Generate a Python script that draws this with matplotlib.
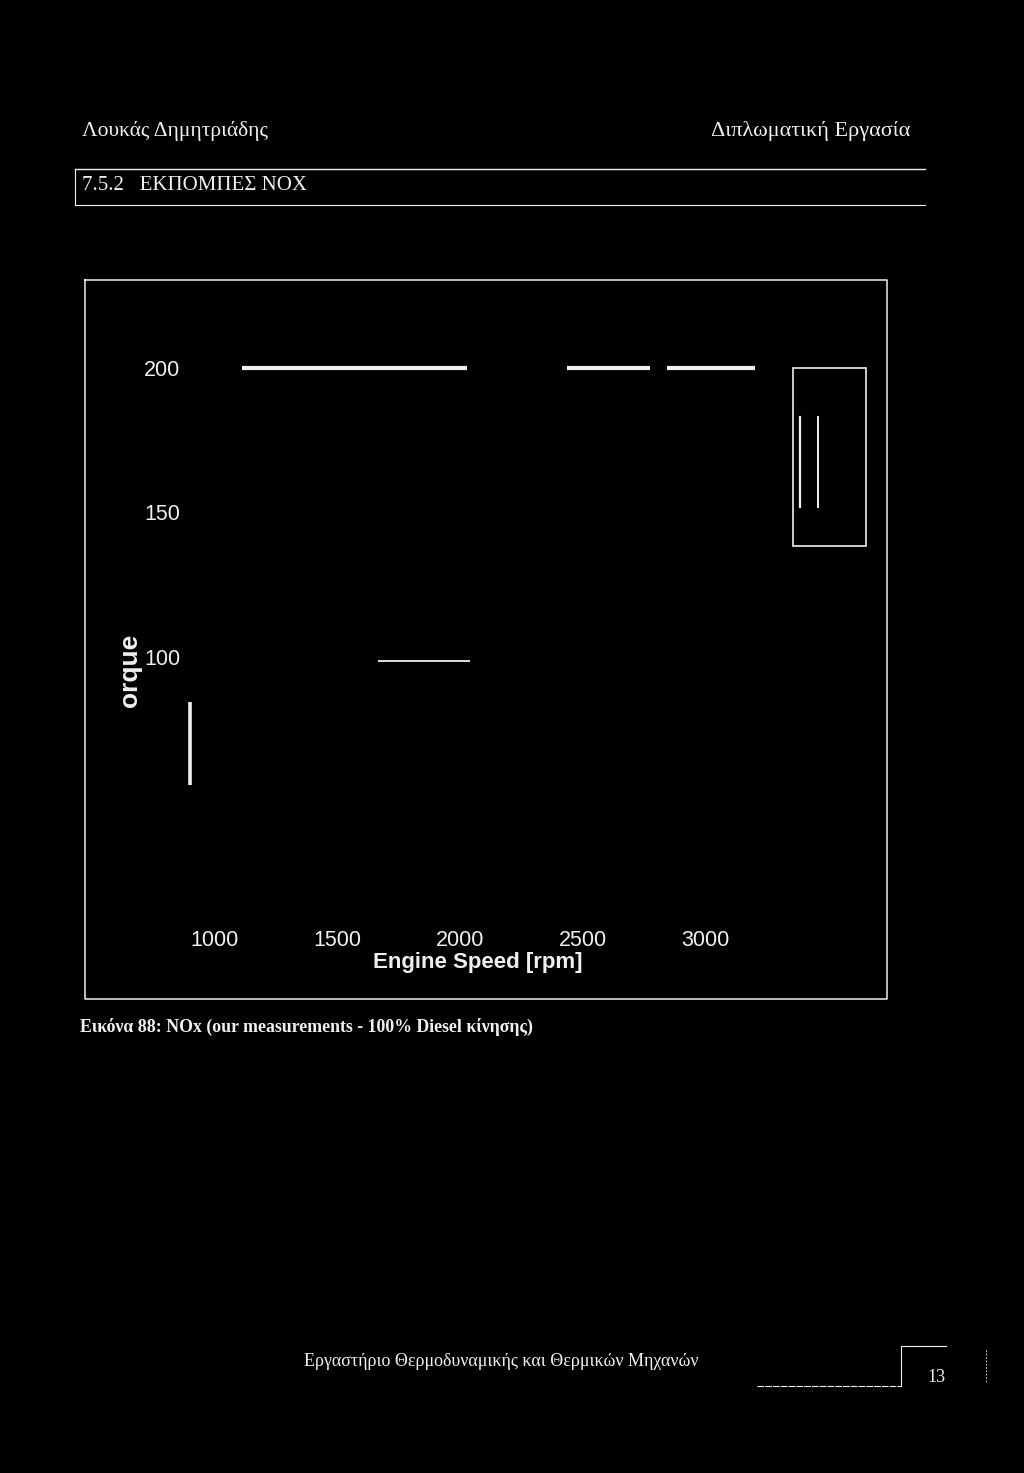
import matplotlib
matplotlib.use('Agg')
import matplotlib.pyplot as plt
from matplotlib.patches import Rectangle

# data (rpm, torque)
rpm_a = [1110, 2030]
trq_a = [200, 200]
rpm_b = [2435, 2775]
trq_b = [200, 200]
rpm_c = [2845, 3205]
trq_c = [200, 200]
rpm_d = [1665, 2040]
trq_d = [98.6, 98.6]
rpm_e = [898, 898]
trq_e = [84.5, 55.8]

xticks = [1000, 1500, 2000, 2500, 3000]
yticks = [100, 150, 200]

fg = '#f0f0f0'
W, H = 1024, 1473

fig = plt.figure(figsize=(W/100, H/100), dpi=100, facecolor='black')

# page layer in pixel coords
page = fig.add_axes([0, 0, 1, 1])
page.set_xlim(0, W)
page.set_ylim(H, 0)
page.axis('off')
page.set_facecolor('black')

serif = 'Liberation Serif'
page.text(82, 131, 'Λουκάς Δημητριάδης', family=serif, fontsize=15.5, color=fg, va='center')
page.text(910, 131, 'Διπλωματική Εργασία', family=serif, fontsize=16, color=fg, va='center', ha='right')
page.plot([75, 925], [169, 169], color=fg, lw=1.0)
page.plot([75, 925], [205, 205], color=fg, lw=0.8)
page.plot([75, 75], [169, 205], color=fg, lw=0.8)
page.text(82, 186, '7.5.2   ΕΚΠΟΜΠΕΣ ΝΟΧ', family=serif, fontsize=15, color=fg, va='center')

# outer frame of the figure
page.plot([85, 887, 887, 85, 85], [280, 280, 999, 999, 280], color=fg, lw=1.1)

# legend box
page.add_patch(Rectangle((793, 368), 73, 178, fill=False, ec=fg, lw=1.2))
page.plot([800, 800], [417, 507], color=fg, lw=1.6)
page.plot([818, 818], [417, 507], color=fg, lw=1.4)

page.text(80, 1027, 'Εικόνα 88: NOx (our measurements - 100% Diesel κίνησης)',
          family=serif, fontsize=12.8, fontweight='bold', color=fg, va='center')

page.text(501, 1362, 'Εργαστήριο Θερμοδυναμικής και Θερμικών Μηχανών',
          family=serif, fontsize=13, color=fg, va='center', ha='center')
page.plot([757, 901], [1386, 1386], color=fg, lw=0.8, ls=(0, (6, 1)))
page.plot([901, 901, 946], [1386, 1346, 1346], color=fg, lw=0.8)
page.plot([986, 986], [1350, 1382], color=fg, lw=0.6, ls=(0, (2, 2)))
page.text(936, 1378, '13', family=serif, fontsize=13, color=fg, va='center', ha='center')

# chart axes
x0, x1 = 880, 3600
y0, y1 = 10, 224
left, right = 185.6, 852
top, bot = 298.6, 917.1
ax = fig.add_axes([left/W, 1 - bot/H, (right-left)/W, (bot-top)/H])
ax.set_facecolor('none')
ax.set_xlim(x0, x1)
ax.set_ylim(y0, y1)
for s in ax.spines.values():
    s.set_visible(False)

ax.plot(rpm_a, trq_a, color=fg, lw=3.0, solid_capstyle='butt')
ax.plot(rpm_b, trq_b, color=fg, lw=3.0, solid_capstyle='butt')
ax.plot(rpm_c, trq_c, color=fg, lw=3.0, solid_capstyle='butt')
ax.plot(rpm_d, trq_d, color=fg, lw=1.3, solid_capstyle='butt')
ax.plot(rpm_e, trq_e, color=fg, lw=2.6, solid_capstyle='butt')

sans = 'Liberation Sans'
ax.set_xticks(xticks)
ax.set_yticks(yticks)
ax.tick_params(length=0, colors=fg, labelsize=15.5, pad=9)
ax.tick_params(axis='y', pad=4)
for lb in ax.get_xticklabels() + ax.get_yticklabels():
    lb.set_family(sans)

ax.set_xlabel('Engine Speed [rpm]', family=sans, fontsize=16, fontweight='bold', color=fg)
ax.xaxis.set_label_coords((478 - left)/(right - left), (bot - 952)/(bot - top))
ax.set_ylabel('orque', family=sans, fontsize=19, fontweight='bold', color=fg)
ax.yaxis.set_label_coords((142 - left)/(right - left), (bot - 670)/(bot - top))

fig.savefig('out.png', dpi=100, facecolor='black')
